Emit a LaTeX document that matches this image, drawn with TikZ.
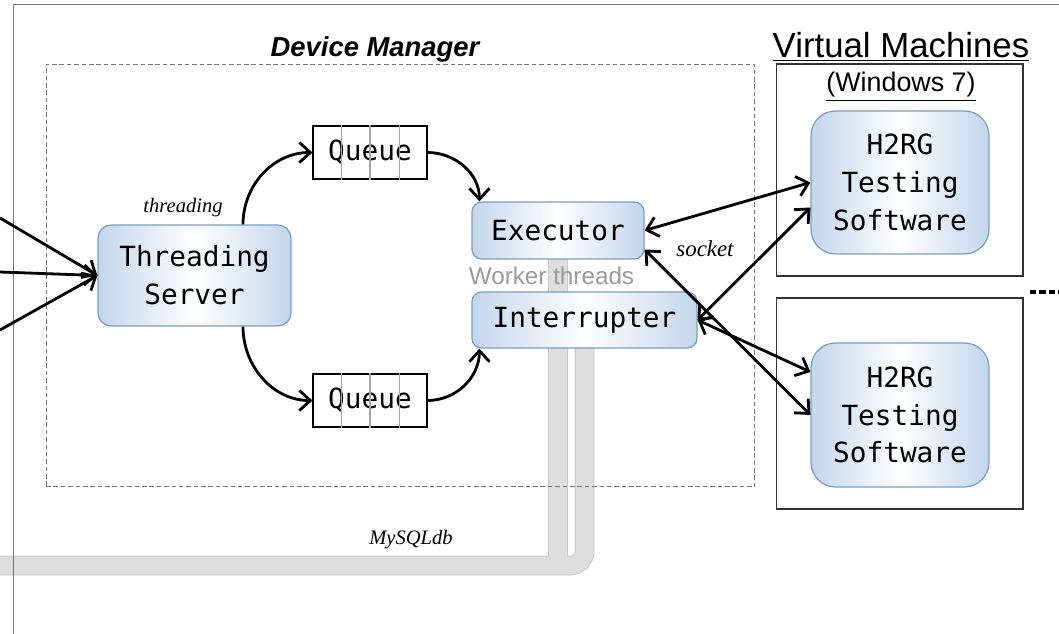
\documentclass[tikz,border=0pt]{standalone}
\usepackage{fontspec}
\setmainfont{Liberation Serif}
\setsansfont{Liberation Sans}
\setmonofont{DejaVu Sans Mono}
\usetikzlibrary{arrows.meta,calc}
\pgfdeclarelayer{background}
\pgfsetlayers{background,main}
\definecolor{boxedge}{HTML}{C3D6EC}
\definecolor{boxline}{HTML}{7C9CC4}
\definecolor{pipe}{HTML}{DEDEDE}
\definecolor{pipeedge}{HTML}{C8C8C8}
\definecolor{framegray}{HTML}{7A7A7A}
\definecolor{wtgray}{HTML}{9A9A9A}
\definecolor{dashgray}{HTML}{777777}
\tikzset{
  proc/.style={draw=boxline, line width=0.7pt, rounded corners=5.5pt,
    left color=boxedge, right color=boxedge, middle color=white,
    font=\ttfamily\fontsize{15.8}{21.5}\selectfont, align=center, inner sep=0pt},
  queuebox/.style={draw=black, line width=0.6pt, fill=white,
    minimum width=2.28cm, minimum height=1.06cm,
    font=\ttfamily\fontsize{15.8}{18}\selectfont, inner sep=0pt},
  divider/.style={draw=gray!70, line width=0.6pt},
  vmbox/.style={draw=black!80, line width=0.6pt, minimum width=4.94cm, inner sep=0pt},
  dmbox/.style={draw=dashgray, line width=0.6pt, dash pattern=on 2.6pt off 1.6pt,
    minimum width=14.18cm, minimum height=8.46cm, inner sep=0pt},
  tip/.tip={Straight Barb[length=2.2mm,width=4mm]},
  flow/.style={-tip, line width=1.6pt},
  bothway/.style={tip-tip, line width=1.6pt},
  lbl/.style={font=\itshape\fontsize{11.7}{13}\selectfont, anchor=base, inner sep=0pt},
  pipeline/.style={line width=10.2pt, draw=pipe},
  pipeout/.style={line width=11.2pt, draw=pipeedge},
  title/.style={anchor=base, inner sep=0pt},
}
\begin{document}
\begin{tikzpicture}[x=0.02cm,y=-0.02cm]
\useasboundingbox (0,0) rectangle (1059,634);

% outer frame
\coordinate (fa) at (13.5,634);
\coordinate (fb) at (13.5,4.5);
\coordinate (fc) at (1059,4.5);
\draw[framegray, line width=1pt] (fa) -- (fb) -- (fc);

% device manager box
\node[dmbox] (dm) at (400.5,275.5) {};
\node[title, font=\sffamily\bfseries\itshape\fontsize{15.6}{18}\selectfont] (dmt) at (375,57) {Device Manager};

% VM boxes
\node[vmbox, minimum height=4.24cm] (vm1) at (899.5,170) {};
\node[vmbox, minimum height=4.22cm] (vm2) at (899.5,403.5) {};
\node[title, font=\sffamily\fontsize{19.8}{22}\selectfont] (vmt) at (901,58) {\underline{Virtual Machines}};
\node[title, font=\sffamily\fontsize{15.3}{18}\selectfont] (win) at (901,92) {\underline{(Windows 7)}};

% process boxes
\node[proc, minimum width=3.86cm, minimum height=2.02cm, rounded corners=7.5pt] (ts) at (194.5,275.5) {Threading\\Server};
\node[proc, minimum width=3.44cm, minimum height=1.14cm] (ex) at (558,230.5) {Executor};
\node[proc, minimum width=4.5cm, minimum height=1.12cm] (ir) at (584.5,320) {Interrupter};
\node[proc, minimum width=3.56cm, minimum height=2.86cm, rounded corners=14pt] (h1) at (900,182.5) {H2RG\\Testing\\Software};
\node[proc, minimum width=3.56cm, minimum height=2.88cm, rounded corners=14pt] (h2) at (900,415) {H2RG\\Testing\\Software};

% queues
\node[queuebox] (q1) at (370,152.5) {Queue};
\node[queuebox] (q2) at (370,400.5) {Queue};
\foreach \q in {q1,q2}{
  \foreach \f in {0.254,0.5,0.754}{
    \draw[divider] ($(\q.south west)!\f!(\q.south east)$) -- ($(\q.north west)!\f!(\q.north east)$);
  }
}

% labels
\node[title, font=\sffamily\fontsize{13.8}{16}\selectfont, text=wtgray] (wt) at (551.5,285) {Worker threads};
\node[lbl] (tl) at (183,213) {threading};
\node[lbl, font=\itshape\fontsize{13}{15}\selectfont] (sl) at (705,257) {socket};
\node[lbl] (ml) at (411,545) {MySQLdb};

% database pipes (background)
\coordinate (db) at (0,565.5);
\begin{pgfonlayer}{background}
  \draw[pipeout] (ex.center) -- (ex.center |- db);
  \draw[pipeout, rounded corners=8pt] (db) -| (ir.center);
  \draw[pipeline] (ex.center) -- (ex.center |- db);
  \draw[pipeline, rounded corners=8pt] (db) -| (ir.center);
\end{pgfonlayer}

% incoming arrows
\coordinate (in1) at (0,218);
\coordinate (in2) at (0,272);
\coordinate (in3) at (0,330);
\draw[flow] (in1) -- (ts.west);
\draw[flow] (in2) -- (ts.west);
\draw[flow] (in3) -- (ts.west);

% queue flows
\draw[flow] ($(ts.north)+(48.5,0)$) to[out=90,in=180] (q1.west);
\draw[flow] (q1.east) to[out=0,in=90] ($(ex.north west)+(8,0)$);
\draw[flow] ($(ts.south)+(48.5,0)$) to[out=-90,in=180] (q2.west);
\draw[flow] (q2.east) to[out=0,in=-90] ($(ir.south west)+(8,0)$);

% socket connections
\draw[bothway] (ex.east) -- (h1.west);
\draw[bothway] ($(ex.east)+(0,19)$) -- (h2.west);
\draw[bothway] (ir.east) -- ($(h1.west)+(0,25)$);
\draw[bothway] (ir.east) -- ($(h2.west)+(0,-43)$);

% dashed link to the right
\coordinate (dd1) at (1030,292);
\coordinate (dd2) at (1059,292);
\draw[line width=2.4pt, dash pattern=on 3.6pt off 1.8pt] (dd1) -- (dd2);
\end{tikzpicture}
\end{document}
